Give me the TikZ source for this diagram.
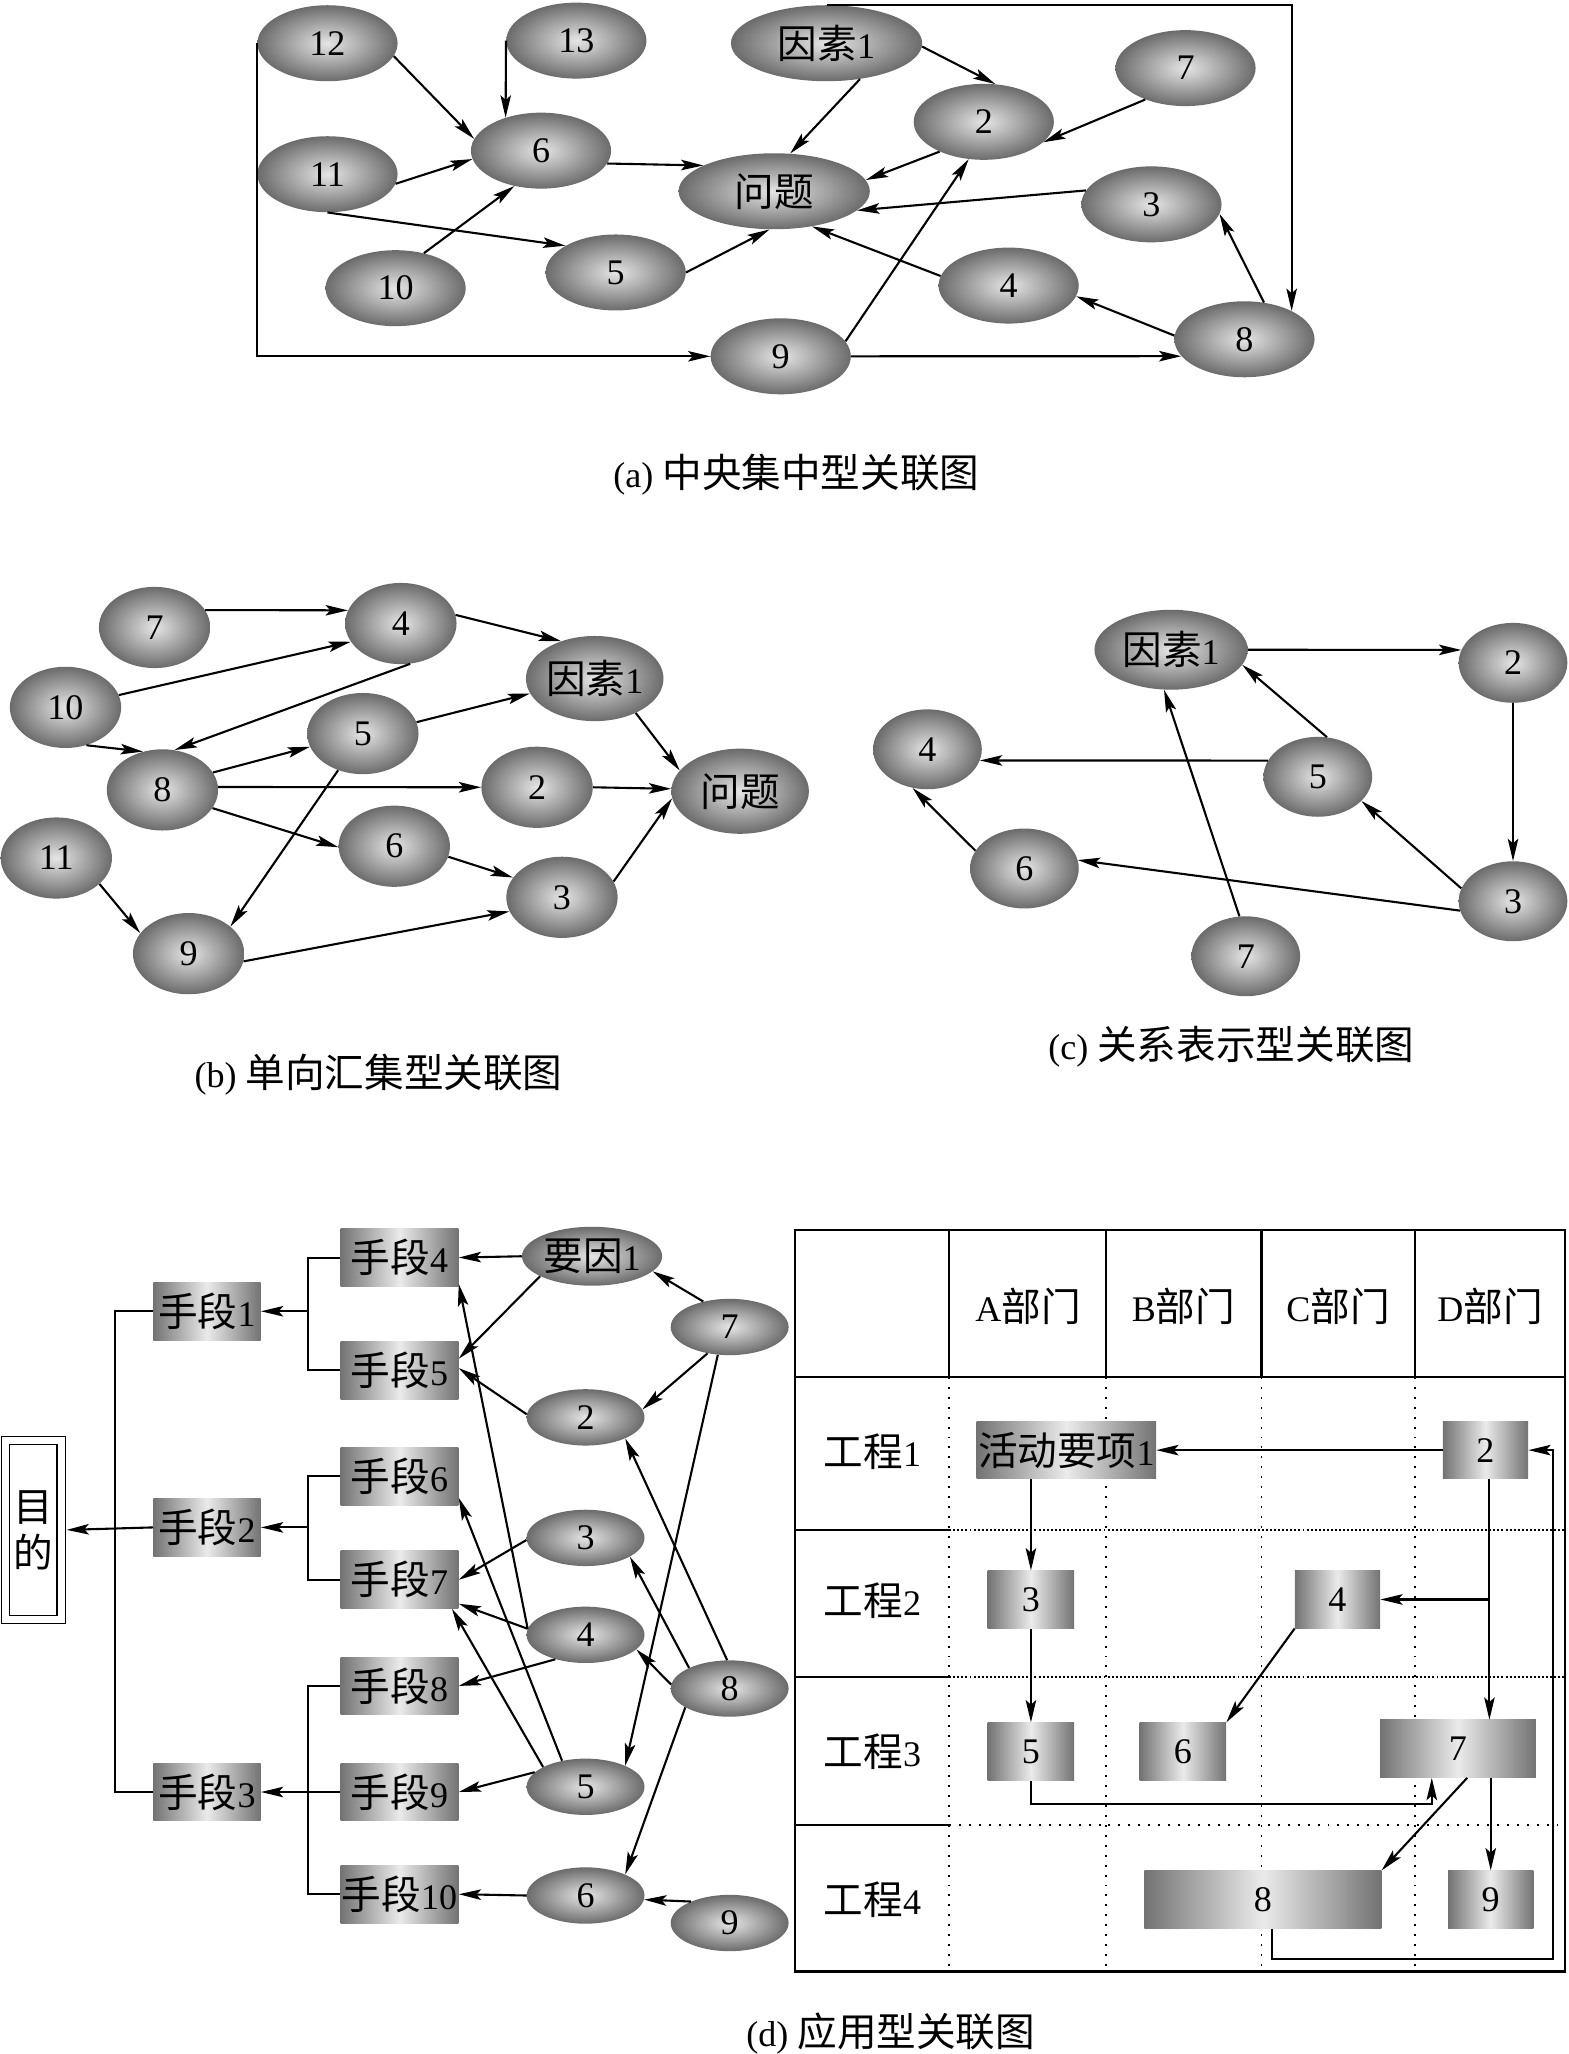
\documentclass[tikz,border=0pt]{standalone}
\usepackage{fontspec}
\setmainfont{Liberation Serif}
\newfontfamily\cjk{Noto Sans CJK SC}[Scale=1.1]
\usetikzlibrary{shapes.geometric,arrows.meta,calc}
\begin{document}
\begin{tikzpicture}[x=1pt,y=-1pt,
  font=\fontsize{27.5}{35}\selectfont,
  shd/.style={inner sep=0pt, inner color=black!10, outer color=black!58},
  ea/.style={shd, ellipse, minimum width=107pt, minimum height=58pt},
  eaw/.style={ea, minimum width=146pt},
  eb/.style={shd, ellipse, minimum width=85pt, minimum height=62pt},
  ebw/.style={eb, minimum width=105pt, minimum height=65pt},
  ec/.style={shd, ellipse, minimum width=83pt, minimum height=61pt},
  ecw/.style={ec, minimum width=117pt},
  ed/.style={shd, ellipse, minimum width=90pt, minimum height=43pt},
  edw/.style={ed, minimum width=107pt, minimum height=45pt},
  bx/.style={rectangle, inner sep=0pt, minimum width=90pt, minimum height=44pt,
     left color=black!55, right color=black!55, middle color=black!8},
  arr/.style={-{Stealth[length=17pt,width=8pt,inset=3.5pt]}, line width=1.6pt},
  ln/.style={line width=1.6pt},
  cdot/.style={line width=1.5pt, dash pattern=on 1.5pt off 6.1pt},
  rdot/.style={line width=1.5pt, dash pattern=on 1.5pt off 1.6pt}
]
\useasboundingbox (0,0) rectangle (1197,1568);

% ================= (a) =================
\node[ea]  (a12) at (250,33)  {12};
\node[ea]  (a13) at (440,31)  {13};
\node[eaw] (aF)  at (631,33)  {{\cjk 因素}1};
\node[ea]  (a6)  at (413,115) {6};
\node[ea]  (a11) at (250,133) {11};
\node[eaw] (aP)  at (591,146) {\cjk 问题};
\node[ea]  (a10) at (302,220) {10};
\node[ea]  (a5)  at (470,208) {5};
\node[ea]  (a9)  at (596,272) {9};
\node[ea]  (a2)  at (751,93)  {2};
\node[ea]  (a7)  at (905,52)  {7};
\node[ea]  (a3)  at (879,156) {3};
\node[ea]  (a4)  at (770,218) {4};
\node[ea]  (a8)  at (950,259) {8};

\draw[arr] (a12.-11) -- (a6.170);
\draw[arr] (a13.west) -- (a6.137);
\draw[arr] (a11.-8) -- (a6.187);
\draw[arr] (a11.south) -- (a5.152);
\draw[arr] (a10.51) -- (a6.233);
\draw[arr] (a6.-11) -- (aP.160);
\draw[arr] (a5.east) -- (aP.263);
\draw[arr] (aF.-47) -- (aP.67);
\draw[arr] (aF.-2) -- (a2.73);
\draw[arr] (aF.north) -| (a8.31);
\draw[arr] (a7.218) -- (a2.-19);
\draw[arr] (a2.214) -- (aP.7);
\draw[arr] (a3.168) -- (aP.-13);
\draw[arr] (a4.172) -- (aP.-43);
\draw[arr] (a9.13.5) -- (a2.248);
\draw[arr] (a9.east) -- (a8.195);
\draw[arr] (a8.177) -- (a4.-9.5);
\draw[arr] (a8.62) -- (a3.-8.6);
\draw[arr] (a12.west) |- (a9.west);

\node (capa) at (608,362) {(a) {\cjk 中央集中型关联图}};

% ================= (b) =================
\node[eb]  (b7)  at (118,479) {7};
\node[eb]  (b4)  at (306,476) {4};
\node[eb]  (b10) at (50,540)  {10};
\node[ebw] (bF)  at (454,518) {{\cjk 因素}1};
\node[eb]  (b5)  at (277,560) {5};
\node[eb]  (b8)  at (124,603) {8};
\node[eb]  (b2)  at (410,601) {2};
\node[ebw] (bP)  at (565,604) {\cjk 问题};
\node[eb]  (b11) at (43,655)  {11};
\node[eb]  (b6)  at (301,646) {6};
\node[eb]  (b3)  at (429,685) {3};
\node[eb]  (b9)  at (144,728) {9};

\draw[arr] (b7.19) -- (b4.166);
\draw[arr] (b10.13) -- (b4.200);
\draw[arr] (b4.9) -- (bF.132);
\draw[arr] (b4.-77) -- (b8.73);
\draw[arr] (b10.-61) -- (b8.117);
\draw[arr] (b8.19) -- (b5.194);
\draw[arr] (b5.12) -- (bF.193.5);
\draw[arr] (b8.3) -- (b2.west);
\draw[arr] (b2.east) -- (bP.178);
\draw[arr] (bF.-40) -- (bP.161);
\draw[arr] (b3.17) -- (bP.186);
\draw[arr] (b8.-20) -- (b6.181);
\draw[arr] (b5.236) -- (b9.33);
\draw[arr] (b6.-11) -- (b3.158);
\draw[arr] (b11.-31.5) -- (b9.157);
\draw[arr] (b9.-8) -- (b3.195);

\node (capb) at (289,820) {(b) {\cjk 单向汇集型关联图}};

% ================= (c) =================
\node[ecw] (cF) at (894,496)  {{\cjk 因素}1};
\node[ec]  (c2) at (1155,506) {2};
\node[ec]  (c4) at (708,572)  {4};
\node[ec]  (c5) at (1006,593) {5};
\node[ec]  (c6) at (782,663)  {6};
\node[ec]  (c3) at (1155,688) {3};
\node[ec]  (c7) at (951,730)  {7};

\draw[arr] (cF.east) -- (c2.166);
\draw[arr] (c2.south) -- (c3.north);
\draw[arr] (c5.77) -- (cF.-12);
\draw[arr] (c7.99.5) -- (cF.260);
\draw[arr] (c5.162.5) -- (c4.-12.8);
\draw[arr] (c6.160) -- (c4.249);
\draw[arr] (c3.166) -- (c5.-29);
\draw[arr] (c3.190) -- (c6.9.5);

\node (capc) at (940,799) {(c) {\cjk 关系表示型关联图}};

% ================= (d) left =================
\node[draw, double, double distance=5pt, line width=1.2pt, fill=white,
      minimum width=42.5pt, minimum height=136.5pt, inner sep=0pt, align=center]
      (mudi) at (25.5,1168) {\cjk 目\\\cjk 的};
\node[bx] (s4)  at (305,960)  {{\cjk 手段}4};
\node[bx, minimum width=82pt] (s1) at (158,1001) {{\cjk 手段}1};
\node[bx] (s5)  at (305,1046) {{\cjk 手段}5};
\node[bx] (s6)  at (305,1127) {{\cjk 手段}6};
\node[bx, minimum width=82pt] (s2) at (158,1166) {{\cjk 手段}2};
\node[bx] (s7)  at (305,1206) {{\cjk 手段}7};
\node[bx] (s8)  at (305,1287) {{\cjk 手段}8};
\node[bx, minimum width=82pt] (s3) at (158,1368) {{\cjk 手段}3};
\node[bx] (s9)  at (305,1368) {{\cjk 手段}9};
\node[bx] (s10) at (305,1446) {{\cjk 手段}10};

\node[edw] (dY) at (452,959)  {{\cjk 要因}1};
\node[ed]  (d7) at (557,1013) {7};
\node[ed]  (d2) at (447,1082) {2};
\node[ed]  (d3) at (447,1174) {3};
\node[ed]  (d4) at (447,1248) {4};
\node[ed]  (d8) at (557,1289) {8};
\node[ed]  (d5) at (447,1364) {5};
\node[ed]  (d6) at (447,1447) {6};
\node[ed]  (d9) at (557,1468) {9};

\draw[ln] (s4.west) -- ++(-25,0) coordinate (j1) |- (s5.west);
\draw[arr] (j1 |- s1.east) -- (s1.east);
\draw[ln] (s6.west) -- ++(-25,0) coordinate (j2) |- (s7.west);
\draw[arr] (j2 |- s2.east) -- (s2.east);
\draw[ln] (s8.west) -- ++(-25,0) coordinate (j3) |- (s10.west);
\draw[arr] (s9.west) -- (s3.east);
\draw[ln] (s1.west) -- ++(-29,0) coordinate (j0) |- (s3.west);
\draw[arr, shorten >=3.5pt] (s2.west) -- (mudi.east);

\draw[arr] (dY.west) -- (s4.east);
\draw[arr] (dY.201) -- (s5.11);
\draw[arr] (d7.136.5) -- (dY.-14);
\draw[arr] (d7.230.5) -- (d2.8.5);
\draw[arr] (d2.177) -- (s5.2.5);
\draw[arr] (d7.247) -- (d5.28);
\draw[arr] (d4.174) -- (s4.-24.5);
\draw[arr] (d4.174) -- (s7.-22);
\draw[arr] (d4.219.5) -- (s8.east);
\draw[arr] (d3.182.5) -- (s7.east);
\draw[arr] (d5.132) -- (s6.-20.7);
\draw[arr] (d5.155) -- (s7.-29);
\draw[arr] (d5.164) -- (s9.east);
\draw[arr] (d8.176) -- (d4.-16.7);
\draw[arr] (d8.153) -- (d3.-23);
\draw[arr] (d8.95) -- (d2.-28);
\draw[arr] (d8.203) -- (d6.28);
\draw[arr] (d9.151) -- (d6.-4);
\draw[arr] (d6.west) -- (s10.east);

% ================= (d) table =================
\draw[ln] (607,939) rectangle (1195,1505);
\draw[ln] (607,1051) -- (1195,1051);
\foreach \x in {724.6,844,963,1080} {
  \draw[ln] (\x,939) -- (\x,1051);
  \draw[cdot] (\x,1051) -- (\x,1505);
}
\foreach \y in {1168,1280,1393} \draw[ln] (607,\y) -- (724.6,\y);
\draw[rdot] (724.6,1168) -- (1195,1168);
\draw[rdot] (724.6,1280) -- (1195,1280);
\draw[cdot] (724.6,1393) -- (1195,1393);

\node (hA) at (784.8,997) {A{\cjk 部门}};
\node (hB) at (903.5,997) {B{\cjk 部门}};
\node (hC) at (1021.5,997) {C{\cjk 部门}};
\node (hD) at (1137.5,997) {D{\cjk 部门}};
\node (r1) at (666,1108) {{\cjk 工程}1};
\node (r2) at (666,1222) {{\cjk 工程}2};
\node (r3) at (666,1337) {{\cjk 工程}3};
\node (r4) at (666,1450) {{\cjk 工程}4};

\node[bx, minimum width=137pt] (t1) at (814,1107) {{\cjk 活动要项}1};
\node[bx, minimum width=65pt] (t2) at (1134,1107) {2};
\node[bx, minimum width=66pt] (t3) at (787,1221) {3};
\node[bx, minimum width=65pt] (t4) at (1021,1221) {4};
\node[bx, minimum width=66pt] (t5) at (787,1337) {5};
\node[bx, minimum width=66pt] (t6) at (903,1337) {6};
\node[bx, minimum width=119pt] (t7) at (1113,1335) {7};
\node[bx, minimum width=181pt] (t8) at (964,1450) {8};
\node[bx, minimum width=65pt] (t9) at (1138,1450) {9};

\draw[arr] (t2.west) -- (t1.east);
\draw[arr] ([xshift=7pt]t8.south) -- ++(0,23) -| ([xshift=19pt]t2.east) -- (t2.east);
\draw[arr] (t3.north |- t1.south) -- (t3.north);
\draw[arr] (t3.south) -- (t5.north);
\draw[arr] ([xshift=3pt]t2.south) -- ([xshift=3pt]t2.south |- t7.north);
\draw[arr] ([xshift=3pt]t2.south |- t4.east) -- (t4.east);
\draw[arr] (t4.south west) -- (t6.north east);
\draw[arr] (t5.south) -- ++(0,18) -| ([xshift=-20pt]t7.south);
\draw[arr] ([xshift=7pt]t7.south) -- (t8.north east);
\draw[arr] (t9.north |- t7.south) -- (t9.north);

\node (capd) at (680,1552) {(d) {\cjk 应用型关联图}};
\end{tikzpicture}
\end{document}
